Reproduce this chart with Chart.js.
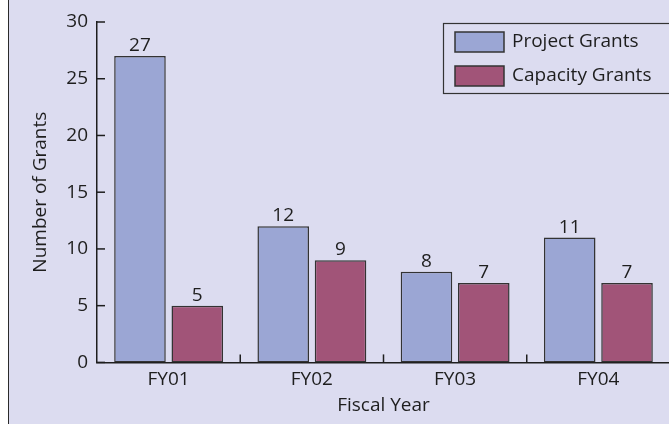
<!DOCTYPE html>
<html lang="en">
<head>
    <meta charset="UTF-8">
    <title>Number of Grants by Fiscal Year</title>
    <script src="https://cdn.jsdelivr.net/npm/chart.js"></script>
    <style>
        body {
            margin: 0;
            padding: 0;
            background-color: #ffffff;
        }

        .frame {
            position: absolute;
            left: 8px;
            top: 0;
            width: 661px;
            height: 424px;
            border-left: 1px solid #2b2b2b;
            background-color: #dcdcf0;
        }

        #grantsChart {
            display: block;
        }
    </style>
</head>
<body>
    <div class="frame">
        <canvas id="grantsChart" width="661" height="424"></canvas>
    </div>

    <script>
        // Chart data
        const fiscalYears = ['FY01', 'FY02', 'FY03', 'FY04'];
        const projectGrants = [27, 12, 8, 11];
        const capacityGrants = [5, 9, 7, 7];
        const yTicks = [0, 5, 10, 15, 20, 25, 30];

        const FONT = '"Open Sans", Lato, sans-serif';
        const FONT_SIZE = 19;
        const INK = '#1e1e1e';

        // Little tick marks drawn inside the plot area, plus bar value labels
        const innerTicks = {
            id: 'innerTicks',
            afterDraw(chart) {
                const ctx = chart.ctx;
                const x = chart.scales.x;
                const y = chart.scales.y;
                ctx.save();
                ctx.strokeStyle = INK;
                ctx.lineWidth = 1.5;
                // y ticks point right
                yTicks.forEach(v => {
                    const py = y.getPixelForValue(v);
                    ctx.beginPath();
                    ctx.moveTo(x.left, py);
                    ctx.lineTo(x.left + 8, py);
                    ctx.stroke();
                });
                // category separators point up
                for (let i = 1; i < fiscalYears.length; i++) {
                    const px = (x.getPixelForTick(i - 1) + x.getPixelForTick(i)) / 2;
                    ctx.beginPath();
                    ctx.moveTo(px, y.bottom);
                    ctx.lineTo(px, y.bottom - 8);
                    ctx.stroke();
                }
                // value labels above bars
                ctx.fillStyle = INK;
                ctx.font = FONT_SIZE + 'px ' + FONT;
                ctx.textAlign = 'center';
                ctx.textBaseline = 'alphabetic';
                chart.data.datasets.forEach((ds, di) => {
                    chart.getDatasetMeta(di).data.forEach((bar, i) => {
                        ctx.fillText(String(ds.data[i]), bar.x, bar.y - 5);
                    });
                });
                ctx.restore();
            }
        };

        // Boxed legend in the top right corner
        const boxLegend = {
            id: 'boxLegend',
            afterDraw(chart) {
                const ctx = chart.ctx;
                ctx.save();
                ctx.strokeStyle = '#333333';
                ctx.lineWidth = 1.2;
                ctx.strokeRect(434.5, 23.5, 260, 70);
                ctx.font = FONT_SIZE + 'px ' + FONT;
                ctx.textBaseline = 'middle';
                ctx.textAlign = 'left';
                chart.data.datasets.forEach((ds, i) => {
                    const top = 32 + i * 34;
                    ctx.fillStyle = ds.backgroundColor;
                    ctx.fillRect(446, top, 49, 20);
                    ctx.strokeStyle = '#333333';
                    ctx.lineWidth = 1.5;
                    ctx.strokeRect(446, top, 49, 20);
                    ctx.fillStyle = INK;
                    ctx.fillText(ds.label, 503, top + 10);
                });
                ctx.restore();
            }
        };

        const ctx = document.getElementById('grantsChart').getContext('2d');
        const grantsChart = new Chart(ctx, {
            type: 'bar',
            data: {
                labels: fiscalYears,
                datasets: [{
                    label: 'Project Grants',
                    data: projectGrants,
                    backgroundColor: '#9ba6d4',
                    borderColor: '#333333',
                    borderWidth: 1.5,
                    borderSkipped: false
                }, {
                    label: 'Capacity Grants',
                    data: capacityGrants,
                    backgroundColor: '#a15478',
                    borderColor: '#333333',
                    borderWidth: 1.5,
                    borderSkipped: false
                }]
            },
            options: {
                responsive: false,
                animation: false,
                layout: {
                    padding: { top: 22, right: 0, left: 0, bottom: 0 }
                },
                categoryPercentage: 0.8,
                barPercentage: 0.9,
                plugins: {
                    legend: { display: false },
                    tooltip: { enabled: false }
                },
                scales: {
                    x: {
                        grid: { display: false, drawTicks: false },
                        border: { display: true, color: INK, width: 1.5 },
                        ticks: {
                            color: INK,
                            font: { family: FONT, size: FONT_SIZE },
                            padding: 6
                        },
                        title: {
                            display: true,
                            text: 'Fiscal Year',
                            color: INK,
                            font: { family: FONT, size: FONT_SIZE },
                            padding: { top: 0, bottom: 7 }
                        },
                        afterFit(scale) { scale.height = 61.6; }
                    },
                    y: {
                        min: 0,
                        max: 30,
                        afterBuildTicks(scale) {
                            scale.ticks = yTicks.map(v => ({ value: v }));
                        },
                        grid: { display: false, drawTicks: false },
                        border: { display: true, color: INK, width: 1.5 },
                        ticks: {
                            color: INK,
                            font: { family: FONT, size: FONT_SIZE },
                            padding: 9
                        },
                        title: {
                            display: true,
                            text: 'Number of Grants',
                            color: INK,
                            font: { family: FONT, size: FONT_SIZE },
                            padding: { top: 20, bottom: 0 }
                        },
                        afterFit(scale) { scale.width = 88; }
                    }
                }
            },
            plugins: [innerTicks, boxLegend]
        });
    </script>
</body>
</html>
